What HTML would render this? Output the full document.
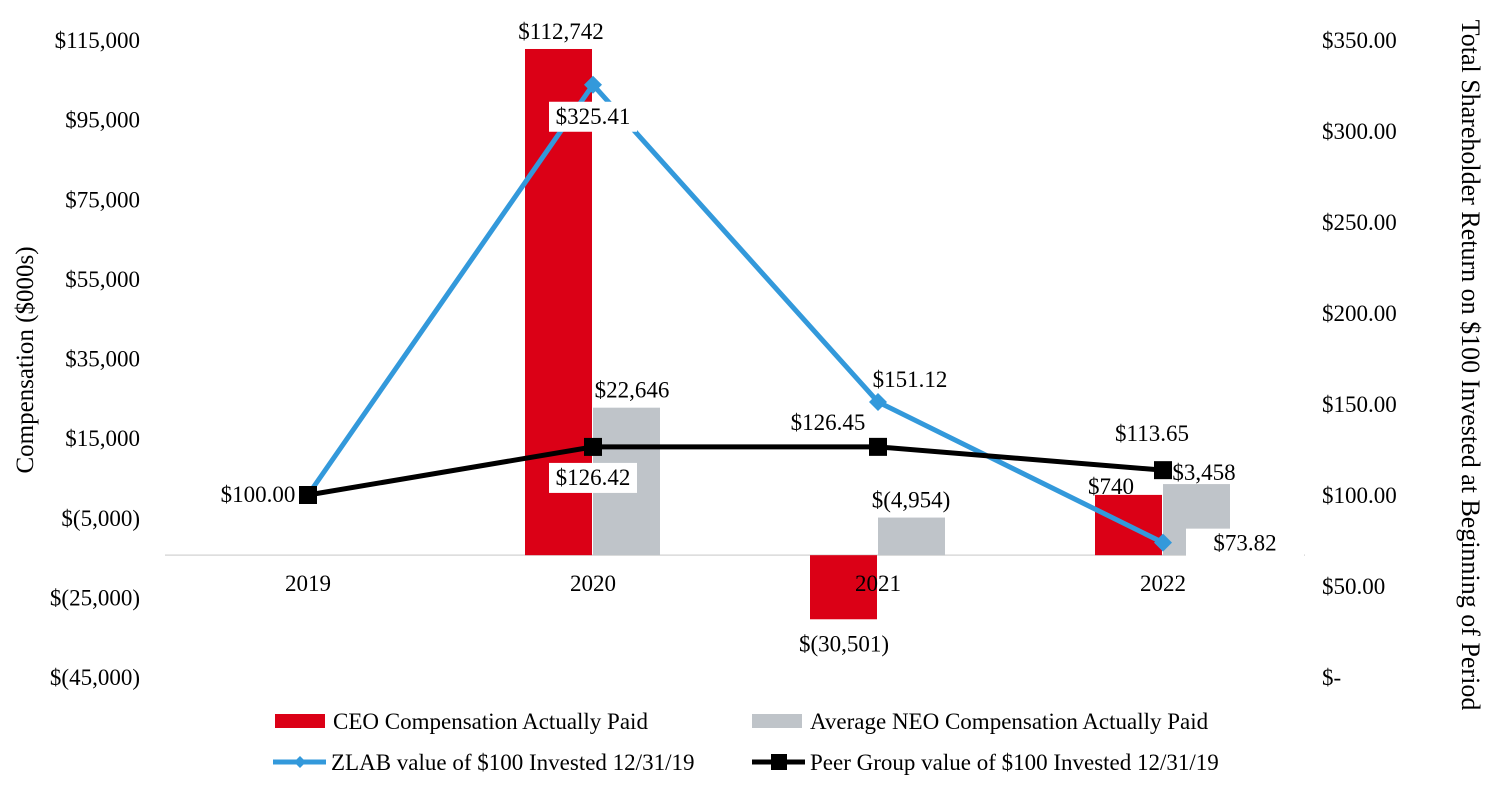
<!DOCTYPE html>
<html><head><meta charset="utf-8"><style>
body{margin:0;background:#fff;}
svg{display:block;font-family:"Liberation Serif",serif;}
</style></head><body>
<svg id="chart" width="1499" height="789" viewBox="0 0 1499 789" xmlns="http://www.w3.org/2000/svg">
<g id="axes"></g>
<g id="bars"></g>
<g id="lines"></g>
<g id="labels"></g>
<g id="xlabels"></g>
<g id="legend"></g>
</svg>
<script>
const years = ["2019","2020","2021","2022"];
const ceoPay = [null, 112742, -30501, 740];
const neoPay = [null, 22646, -4954, 3458];
const zlabTSR = [100.00, 325.41, 151.12, 73.82];
const peerTSR = [100.00, 126.42, 126.45, 113.65];
const leftTicks = [115000, 95000, 75000, 55000, 35000, 15000, -5000, -25000, -45000];
const leftTickLabels = ["$115,000","$95,000","$75,000","$55,000","$35,000","$15,000","$(5,000)","$(25,000)","$(45,000)"];
const rightTicks = [350,300,250,200,150,100,50,0];
const rightTickLabels = ["$350.00","$300.00","$250.00","$200.00","$150.00","$100.00","$50.00","$-"];
const ceoLabels = [null,"$112,742","$(30,501)","$740"];
const neoLabels = [null,"$22,646","$(4,954)","$3,458"];
const zlabLabels = ["","$325.41","$151.12","$73.82"];
const peerLabels = ["$100.00","$126.42","$126.45","$113.65"];

const NS="http://www.w3.org/2000/svg";
const FS=23;
const yL = v => 40 + (115000 - v) * 637 / 160000;
const yR = v => 677 - v * 637 / 350;
const xC = i => 308 + i * 285;
const baseVal = -14400;
const BW = 67;
function mk(parent, tag, attrs, text){
  const e=document.createElementNS(NS,tag);
  for(const k in attrs) e.setAttribute(k,attrs[k]);
  if(text!==undefined) e.textContent=text;
  document.getElementById(parent).appendChild(e);
  return e;
}
let e;
e=mk("axes","line",{x1:165,x2:1305,y1:yL(baseVal),y2:yL(baseVal),stroke:"#d9d9d9","stroke-width":1.5});


leftTicks.forEach((t,i)=>{
  e=mk("axes","text",{x:140,y:yL(t)+8,"text-anchor":"end","font-size":FS},leftTickLabels[i]);
  
  
});
rightTicks.forEach((t,i)=>{
  e=mk("axes","text",{x:1322,y:yR(t)+8,"font-size":FS},rightTickLabels[i]);
  
  
});
years.forEach((y,i)=>{
  e=mk("xlabels","text",{x:xC(i),y:591,"text-anchor":"middle","font-size":FS},y);
  
  
});
e=mk("axes","text",{x:0,y:0,"text-anchor":"middle","font-size":25,transform:"translate(33,360) rotate(-90)"},"Compensation ($000s)");


e=mk("axes","text",{x:0,y:0,"text-anchor":"middle","font-size":26,transform:"translate(1462,365) rotate(90)"},"Total Shareholder Return on $100 Invested at Beginning of Period");


years.forEach((y,i)=>{
  if(ceoPay[i]!==null){
    const a=yL(baseVal), b=yL(ceoPay[i]);
    e=mk("bars","rect",{x:xC(i)-BW-1,y:Math.min(a,b),width:BW,height:Math.abs(a-b),fill:"#DB0016"});
    
    
  }
  if(neoPay[i]!==null){
    const a=yL(baseVal), b=yL(neoPay[i]);
    e=mk("bars","rect",{x:xC(i),y:Math.min(a,b),width:BW,height:Math.abs(a-b),fill:"#BFC4C9"});
    
    
  }
});
function series(vals,color,name,marker){
  e=mk("lines","polyline",{points:vals.map((v,i)=>xC(i)+","+yR(v)).join(" "),fill:"none",stroke:color,"stroke-width":5});
  
  
  vals.forEach((v,i)=>{
    const x=xC(i), y=yR(v);
    if(marker==="diamond"){
      e=mk("lines","polygon",{points:`${x},${y-9} ${x+9},${y} ${x},${y+9} ${x-9},${y}`,fill:color});
    } else {
      e=mk("lines","rect",{x:x-9,y:y-9,width:18,height:18,fill:color});
    }
    
    
  });
}
series(zlabTSR,"#3399DB","zlab-tsr","diamond");
series(peerTSR,"#000","peer-tsr","square");
function lab(x,y,t,name,box,w){
  if(box){
    e=mk("labels","rect",{x:x-w/2,y:y-22,width:w,height:30,fill:"#fff"});
    
    
  }
  e=mk("labels","text",{x:x,y:y,"text-anchor":"middle","font-size":FS},t);
  
  
}
lab(xC(1)-32,yL(ceoPay[1])-10,ceoLabels[1],"ceo-label-2020");
lab(xC(2)-34,yL(ceoPay[2])+32,ceoLabels[2],"ceo-label-2021");
lab(xC(3)-52,yL(ceoPay[3])-1,ceoLabels[3],"ceo-label-2022");
lab(xC(1)+39,yL(neoPay[1])-10,neoLabels[1],"neo-label-2020");
lab(xC(2)+33,yL(neoPay[2])-10,neoLabels[2],"neo-label-2021");
lab(xC(3)+41,yL(neoPay[3])-4,neoLabels[3],"neo-label-2022");
lab(xC(1),yR(zlabTSR[1])+39,zlabLabels[1],"zlab-label-2020",true,88);
lab(xC(2)+32,yR(zlabTSR[2])-15,zlabLabels[2],"zlab-label-2021");
lab(xC(3)+82,yR(zlabTSR[3])+8,zlabLabels[3],"zlab-label-2022",true,118);
lab(xC(0)-50,yR(peerTSR[0])+7,peerLabels[0],"peer-label-2019",true,82);
lab(xC(1),yR(peerTSR[1])+38,peerLabels[1],"peer-label-2020",true,88);
lab(xC(2)-50,yR(peerTSR[2])-17,peerLabels[2],"peer-label-2021");
lab(xC(3)-11,yR(peerTSR[3])-29,peerLabels[3],"peer-label-2022");
function leg(kind,x,y,color,text,name){
  if(kind==="bar"){
    e=mk("legend","rect",{x:x,y:y-7,width:50,height:14,fill:color});
  } else {
    e=mk("legend","line",{x1:x,x2:x+53,y1:y,y2:y,stroke:color,"stroke-width":5});
    
    
    const cx=x+27;
    if(kind==="diamond") e=mk("legend","polygon",{points:`${cx},${y-6} ${cx+6},${y} ${cx},${y+6} ${cx-6},${y}`,fill:color});
    else e=mk("legend","rect",{x:cx-8,y:y-8,width:16,height:16,fill:color});
  }
  
  
  e=mk("legend","text",{x:x+58,y:y+8,"font-size":FS},text);
  
  
}
leg("bar",275,721,"#DB0016","CEO Compensation Actually Paid","legend-ceo");
leg("bar",752,721,"#BFC4C9","Average NEO Compensation Actually Paid","legend-neo");
leg("diamond",273,762,"#3399DB","ZLAB value of $100 Invested 12/31/19","legend-zlab");
leg("square",752,762,"#000","Peer Group value of $100 Invested 12/31/19","legend-peer");
</script>
</body></html>
